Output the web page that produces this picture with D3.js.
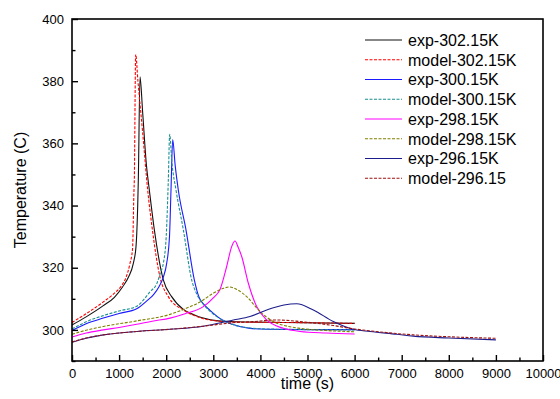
<!DOCTYPE html>
<html>
<head>
<meta charset="utf-8">
<script src="https://cdn.jsdelivr.net/npm/d3@7"></script>
<style>
  body { margin: 0; background: #fff; }
  svg text { font-family: "Liberation Sans", Arial, sans-serif; fill: #000; }
</style>
</head>
<body>
<svg id="chart" width="560" height="399"></svg>
<script>
// series names, in legend order
const seriesNames = ["exp-302.15K", "model-302.15K", "exp-300.15K", "model-300.15K",
                     "exp-298.15K", "model-298.15K", "exp-296.15K", "model-296.15"];

// [time (s), temperature]
const exp302 = [[0,301.6],[300,304.2],[665,307.8],[900,310.5],[1076,313.9],[1200,317],[1302,321.4],
  [1359,326.8],[1395,340],[1408,348.2],[1444,381.4],[1500,370],[1580,353],[1642,345],[1750,332],
  [1939,316.1],[2116,310.7],[2364,306.6],[2600,304.8],[2788,303.8],[3100,302.9],[3500,302.6],
  [4500,302.4],[6000,302.1]];
const model302 = [[0,302.4],[300,305.2],[665,309],[900,311.8],[1050,314.2],[1150,317],[1231,321.4],
  [1285,326],[1316,345],[1323,348.2],[1352,388.6],[1400,380],[1500,363.5],[1607,345],[1700,333],
  [1868,317],[2045,310.7],[2364,306.4],[2600,304.6],[2788,303.6],[3142,302.8],[3500,302.5],
  [4500,302.4],[6000,302.1]];
const exp300 = [[0,299.8],[300,302],[665,303.8],[1000,305.3],[1373,306.8],[1600,309.5],[1727,311.3],
  [1850,314],[1939,317],[2010,321.4],[2070,330],[2102,345],[2138,361.2],[2190,353],[2257,345],
  [2420,332.2],[2597,316.1],[2697,310.5],[2800,308.2],[2930,306.3],[3213,303],[3400,301.8],
  [3779,300.5],[4134,300.2],[5000,300.1],[6000,300.1]];
const model300 = [[0,300.3],[300,302.6],[665,304.6],[1000,306.1],[1373,307.6],[1550,310.2],[1656,312.3],
  [1798,314.8],[1880,318.5],[1939,321.4],[2000,330],[2045,348.2],[2074,362.9],[2120,354],[2208,345],
  [2364,332.2],[2541,316.1],[2650,311.5],[2800,308],[2930,306],[3100,304],[3213,303],[3400,301.8],
  [3779,300.6],[4134,300.3],[5000,300.1],[6000,300]];
const exp298 = [[0,297.7],[300,299],[665,300],[1000,300.8],[1373,301.8],[1700,302.8],[2081,303.8],
  [2400,305.2],[2788,307.5],[3000,310.3],[3142,313],[3284,320.4],[3390,326.8],[3461,328.6],
  [3530,326.5],[3603,323.6],[3744,315],[3921,307.5],[4134,303.2],[4487,300.5],[4841,299.5],
  [5400,299],[6000,298.7]];
const model298 = [[0,298.6],[300,299.9],[665,301.1],[1373,302.9],[2081,305],[2400,306.8],[2718,309],
  [3000,311.8],[3200,313.3],[3340,313.8],[3500,313],[3709,310.7],[3992,305.9],[4274,302.7],
  [4600,301.1],[4841,300.5],[5400,299.8],[6000,299.4]];
const exp296 = [[0,296],[300,297.3],[665,298.4],[1373,299.5],[2081,300.2],[2788,301.2],[3425,303.2],
  [3779,304.3],[4134,306.4],[4500,308],[4770,308.4],[5124,306.4],[5548,302.7],[5972,300.2],
  [6327,299.5],[6893,298.6],[7247,298],[8000,297.4],[9000,296.8]];
const model296 = [[0,296.1],[300,297.4],[665,298.4],[1373,299.5],[2081,300.2],[2788,301.2],[3496,302.4],
  [3779,302.6],[4346,303.2],[4841,302.7],[5548,301.4],[6000,300.3],[6327,299.7],[7247,298.4],
  [8000,297.8],[9000,297.3]];

const xTicks = [0,1000,2000,3000,4000,5000,6000,7000,8000,9000,10000];
const yTicks = [300,320,340,360,380,400];

const seriesData = [exp302, model302, exp300, model300, exp298, model298, exp296, model296];
const seriesColors = ["#111111", "#ff0000", "#1a1aff", "#1a9090", "#ff00ff", "#808000", "#1c1c8c", "#a01010"];
const seriesDashed = [false, true, false, true, false, true, false, true];

const svg = d3.select("#chart");
const plotLeft = 72, plotRight = 543, plotTop = 19, plotBottom = 361;

const x = d3.scaleLinear().domain([0, 10000]).range([plotLeft, plotRight]);
const y = d3.scaleLinear().domain([290, 400]).range([plotBottom, plotTop]);

// data lines
const line = d3.line()
    .x(d => x(d[0]))
    .y(d => y(d[1]))
    .curve(d3.curveMonotoneX);

svg.append("g").selectAll("path")
    .data(seriesData)
    .enter()
    .append("path")
    .attr("d", d => line(d))
    .attr("fill", "none")
    .attr("stroke", (d, i) => seriesColors[i])
    .attr("stroke-width", 1.1)
    .attr("stroke-dasharray", (d, i) => seriesDashed[i] ? "3,1.5" : null);

// frame
svg.append("rect")
    .attr("x", plotLeft).attr("y", plotTop)
    .attr("width", plotRight - plotLeft).attr("height", plotBottom - plotTop)
    .attr("fill", "none").attr("stroke", "#000").attr("stroke-width", 1.6);

// x axis: major ticks inward, minor ticks in between
const xAxis = d3.axisBottom(x).tickValues(xTicks).tickSize(-6).tickFormat(d3.format("d"));
const gx = svg.append("g").attr("transform", `translate(0,${plotBottom})`).call(xAxis);
gx.select(".domain").remove();
gx.selectAll("line").attr("stroke-width", 1.4);
gx.selectAll("text").attr("y", 8).attr("font-size", 13).style("font-family", "Liberation Sans, Arial, sans-serif");

const xMinor = d3.axisBottom(x).tickValues(d3.range(500, 10000, 1000)).tickSize(-3.5).tickFormat("");
const gxm = svg.append("g").attr("transform", `translate(0,${plotBottom})`).call(xMinor);
gxm.select(".domain").remove();
gxm.selectAll("line").attr("stroke-width", 1.4);

// y axis
const yAxis = d3.axisLeft(y).tickValues(yTicks).tickSize(-6).tickFormat(d3.format("d"));
const gy = svg.append("g").attr("transform", `translate(${plotLeft},0)`).call(yAxis);
gy.select(".domain").remove();
gy.selectAll("line").attr("stroke-width", 1.4);
gy.selectAll("text").attr("x", -8).attr("font-size", 13).style("font-family", "Liberation Sans, Arial, sans-serif");

const yMinor = d3.axisLeft(y).tickValues(d3.range(290, 400, 20)).tickSize(-3.5).tickFormat("");
const gym = svg.append("g").attr("transform", `translate(${plotLeft},0)`).call(yMinor);
gym.select(".domain").remove();
gym.selectAll("line").attr("stroke-width", 1.4);

// axis titles
svg.append("text")
    .attr("x", (plotLeft + plotRight) / 2).attr("y", 389)
    .attr("text-anchor", "middle").attr("font-size", 16)
    .text("time (s)");

svg.append("text")
    .attr("transform", `translate(26,${(plotTop + plotBottom) / 2}) rotate(-90)`)
    .attr("text-anchor", "middle").attr("font-size", 16)
    .text("Temperature (C)");

// legend
const legend = svg.append("g").selectAll("g")
    .data(seriesNames)
    .enter()
    .append("g")
    .attr("transform", (d, i) => `translate(365,${40 + i * 19.75})`);

legend.append("line")
    .attr("x1", 0).attr("x2", 37)
    .attr("stroke", (d, i) => seriesColors[i])
    .attr("stroke-width", 1.1)
    .attr("stroke-dasharray", (d, i) => seriesDashed[i] ? "3,1.5" : null);

legend.append("text")
    .attr("x", 43).attr("dy", "0.36em")
    .attr("font-size", 16)
    .text(d => d);
</script>
</body>
</html>
